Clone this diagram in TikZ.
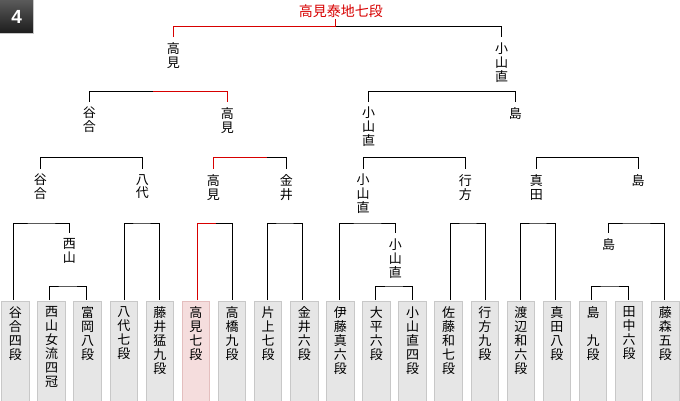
\documentclass[tikz,border=0pt]{standalone}
\usepackage{fontspec}
\newfontfamily\jp{Noto Sans CJK JP}
\newfontfamily\badgefont{Liberation Sans}
\definecolor{winred}{RGB}{215,0,0}
\definecolor{boxfill}{RGB}{230,230,230}
\definecolor{boxline}{RGB}{200,200,200}
\definecolor{hifill}{RGB}{245,221,221}
\definecolor{hiline}{RGB}{228,190,190}
\definecolor{badgetop}{RGB}{90,90,90}
\definecolor{badgebot}{RGB}{28,28,28}
\newcommand{\leafnode}[5]{%
  \node[#5] (#1) at (#2+13.75,300.5) {};
  \node[lbl] (#1t) at (#2+13.75,306.5) {#4};
  \coordinate (#1s) at (#3,300);}
\newcommand{\blabel}[4]{%
  \node[lbl] (#1) at (#2,#3) {#4};
  \coordinate (#1s) at (#2,#3-5.5);}
\begin{document}
\begin{tikzpicture}[x=1pt,y=-1pt,
  lbl/.style={inner sep=0pt,anchor=north,align=center,font=\jp\fontsize{13}{13.9}\selectfont},
  leafbox/.style={draw=boxline,fill=boxfill,line width=1pt,minimum width=27.5pt,minimum height=110pt,anchor=north,inner sep=0pt},
  hibox/.style={leafbox,draw=hiline,fill=hifill},
  link/.style={line width=1pt,black},
  winlink/.style={line width=1pt,winred},
  badge/.style={anchor=north west,minimum width=33pt,minimum height=33pt,inner sep=0pt,top color=badgetop,bottom color=badgebot,text=white,font=\badgefont\bfseries\fontsize{19}{19}\selectfont}]
\useasboundingbox (0,0) rectangle (680,400);
% badge
\node[badge] (badge) at (0,0) {4};
\draw[line width=1pt,color=black!22] (badge.north east) -- (badge.south east) -- (badge.south west);
% title
\node[inner sep=0pt,text=winred,font=\jp\fontsize{14}{14}\selectfont] (title) at (340.8,10.8) {高見泰地七段};
\coordinate (titles) at (335.7,18.7);
% leaves
\leafnode{b0}{1.7}{13.3}{谷\\合\\四\\段}{leafbox}
\leafnode{b1}{37.8}{49.3}{西\\山\\女\\流\\四\\冠}{leafbox}
\leafnode{b2}{73.9}{86.3}{富\\岡\\八\\段}{leafbox}
\leafnode{b3}{110}{124.3}{八\\代\\七\\段}{leafbox}
\leafnode{b4}{146.1}{159.3}{藤\\井\\猛\\九\\段}{leafbox}
\leafnode{b5}{182.2}{197.3}{高\\見\\七\\段}{hibox}
\leafnode{b6}{218.3}{232.3}{高\\橋\\九\\段}{leafbox}
\leafnode{b7}{254.4}{267.3}{片\\上\\七\\段}{leafbox}
\leafnode{b8}{290.5}{302.3}{金\\井\\六\\段}{leafbox}
\leafnode{b9}{326.6}{339.3}{伊\\藤\\真\\六\\段}{leafbox}
\leafnode{b10}{362.7}{375.7}{大\\平\\六\\段}{leafbox}
\leafnode{b11}{398.8}{412.3}{小\\山\\直\\四\\段}{leafbox}
\leafnode{b12}{434.9}{450.3}{佐\\藤\\和\\七\\段}{leafbox}
\leafnode{b13}{471}{485.5}{行\\方\\九\\段}{leafbox}
\leafnode{b14}{507.1}{520.5}{渡\\辺\\和\\六\\段}{leafbox}
\leafnode{b15}{543.2}{555.3}{真\\田\\八\\段}{leafbox}
\leafnode{b16}{579.3}{591.3}{島\\　\\九\\段}{leafbox}
\leafnode{b17}{615.4}{628.3}{田\\中\\六\\段}{leafbox}
\leafnode{b18}{651.5}{664.3}{藤\\森\\五\\段}{leafbox}
% round-1 winners shown above the lowest brackets
\blabel{e1}{69.3}{238.3}{西\\山}
\blabel{e2}{395.3}{238.3}{小\\山\\直}
\blabel{e3}{608.7}{238.3}{島}
% lowest brackets
\coordinate (k1) at (67.8,286);  \draw[link] (b1s) |- (k1) -| (b2s);
\coordinate (k2) at (394,286);   \draw[link] (b10s) |- (k2) -| (b11s);
\coordinate (k3) at (609.8,286); \draw[link] (b16s) |- (k3) -| (b17s);
% level 3 labels
\blabel{d1}{40.3}{174}{谷\\合}
\blabel{d2}{142.3}{174}{八\\代}
\blabel{d3}{213.3}{174}{高\\見}
\blabel{d4}{286.3}{174}{金\\井}
\blabel{d5}{363}{174}{小\\山\\直}
\blabel{d6}{465.3}{174}{行\\方}
\blabel{d7}{536.3}{174}{真\\田}
\blabel{d8}{638}{174}{島}
% brackets at y 223
\coordinate (j1) at (41.3,223);  \draw[link] (b0s) |- (j1) -| (e1s);
\coordinate (j2) at (141.8,223); \draw[link] (b3s) |- (j2) -| (b4s);
\coordinate (j3) at (215.7,223); \draw[winlink] (b5s) |- (j3); \draw[link] (j3) -| (b6s);
\coordinate (j4) at (284.8,223); \draw[link] (b7s) |- (j4) -| (b8s);
\coordinate (j5) at (367.3,223); \draw[link] (b9s) |- (j5) -| (e2s);
\coordinate (j6) at (468,223);   \draw[link] (b12s) |- (j6) -| (b13s);
\coordinate (j7) at (538,223);   \draw[link] (b14s) |- (j7) -| (b15s);
\coordinate (j8) at (636.5,223); \draw[link] (e3s) |- (j8) -| (b18s);
% level 2 labels
\blabel{c1}{89.3}{107}{谷\\合}
\blabel{c2}{227.3}{107}{高\\見}
\blabel{c3}{368.7}{107}{小\\山\\直}
\blabel{c4}{515.3}{107}{島}
% brackets at y 157
\coordinate (h1) at (91.3,157.3);  \draw[link] (d1s) |- (h1) -| (d2s);
\coordinate (h2) at (266.7,157.3); \draw[winlink] (d3s) |- (h2); \draw[link] (h2) -| (d4s);
\coordinate (h3) at (414.2,157.3); \draw[link] (d5s) |- (h3) -| (d6s);
\coordinate (h4) at (587.2,157.3); \draw[link] (d7s) |- (h4) -| (d8s);
% level 1 labels
\blabel{a1}{173.3}{42.7}{高\\見}
\blabel{a2}{501.7}{42.7}{小\\山\\直}
% brackets at y 91.7
\coordinate (g1) at (153.3,91.7); \draw[link] (c1s) |- (g1); \draw[winlink] (g1) -| (c2s);
\coordinate (g2) at (442,91.7);   \draw[link] (c3s) |- (g2) -| (c4s);
% final bracket
\coordinate (f0) at (335.7,26);
\draw[winlink] (a1s) |- (f0) -- (titles);
\draw[link] (f0) -| (a2s);
\end{tikzpicture}
\end{document}
